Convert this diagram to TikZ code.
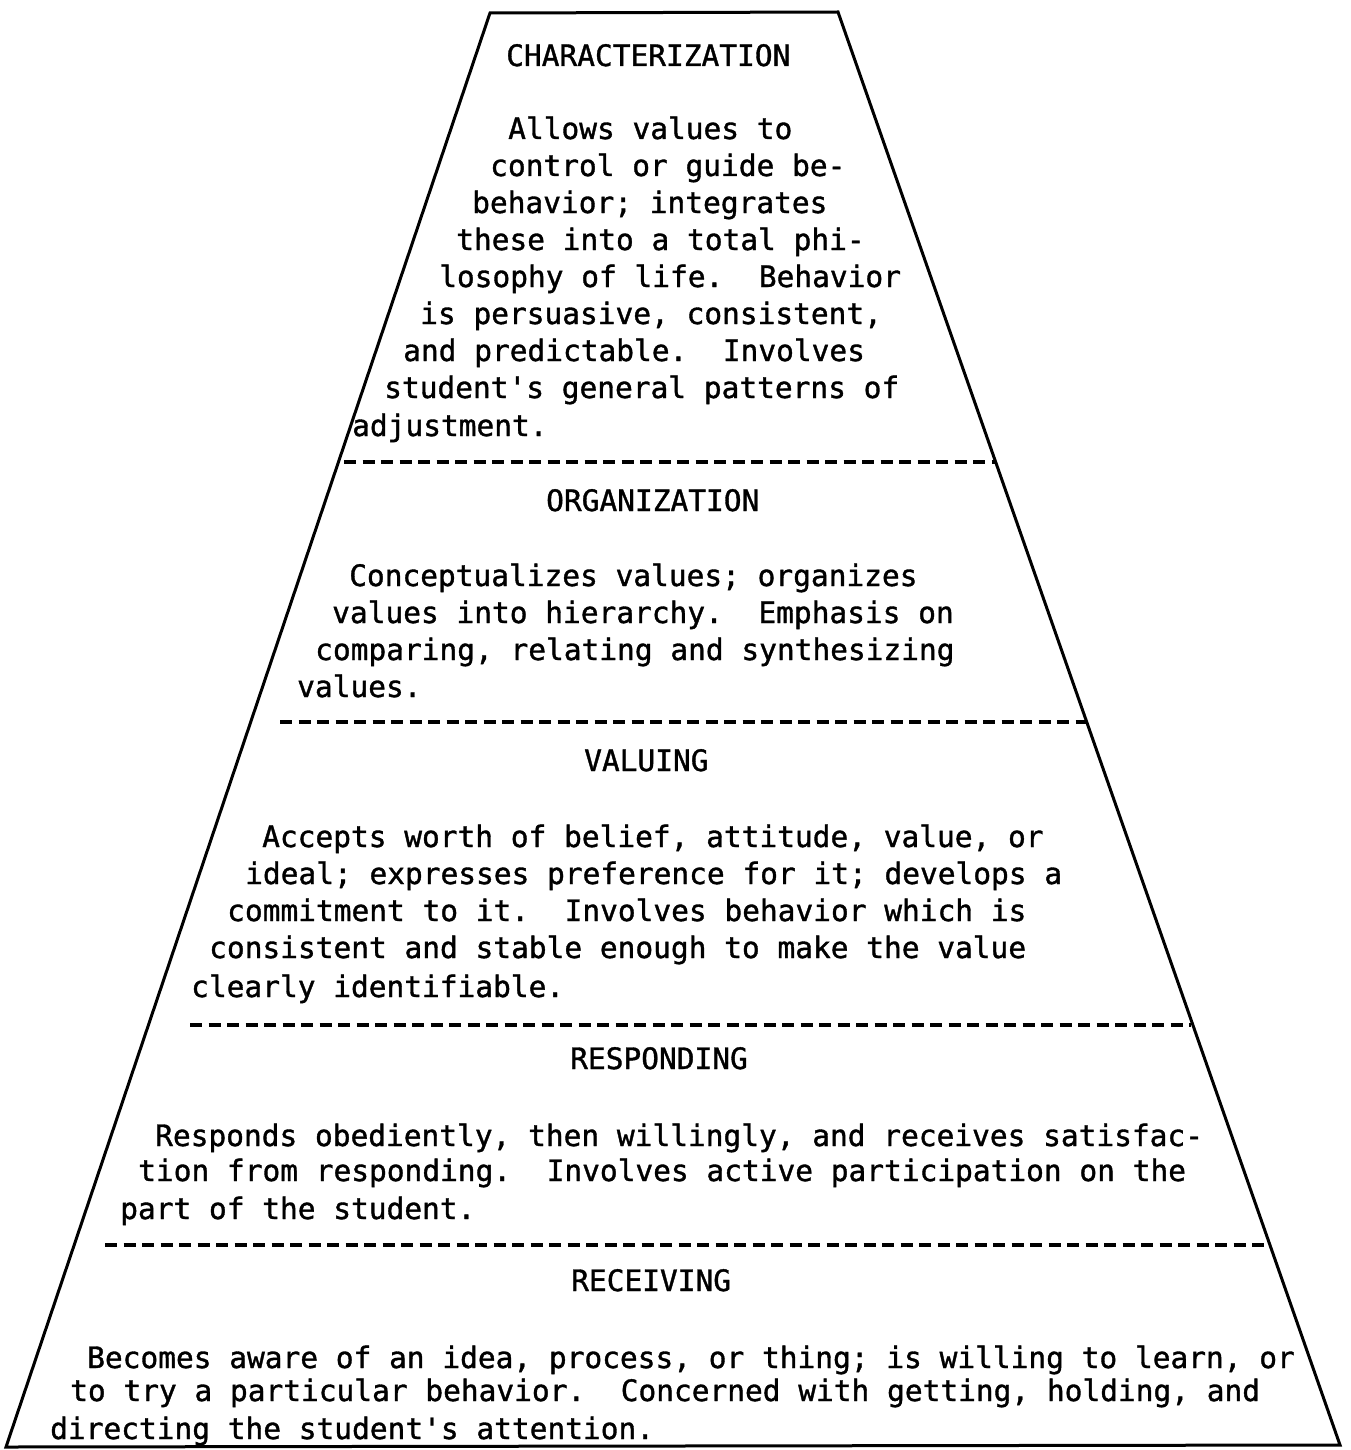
\documentclass[tikz,border=0pt]{standalone}
\usepackage{fontspec}
\setmonofont[WordSpace={1,0,0},FakeBold=1.2]{DejaVu Sans Mono}
\frenchspacing
\begin{document}
\begin{tikzpicture}[x=1pt,y=-1pt,
  ln/.style={anchor=base west,inner sep=0pt,font=\ttfamily\fontsize{29.5}{37}\selectfont},
  edge/.style={line width=3pt,line join=miter},
  divider/.style={line width=3.8pt,dash pattern=on 12pt off 6.5pt}]
\useasboundingbox (0,0) rectangle (1351,1450);
% trapezoid
\coordinate (TL) at (490,13);
\coordinate (TR) at (838,12);
\coordinate (BR) at (1340,1445);
\coordinate (BL) at (6,1447);
\draw[edge] (BL) -- (TL) -- (TR) -- (BR) -- cycle;
% dividers
\draw[divider] (344,462) -- (995,462);
\draw[divider] (280,722) -- (1086,722);
\draw[divider] (190,1025) -- (1191,1025);
\draw[divider] (105,1245) -- (1267,1245);
% characterization
\node[ln] (c0) at (506,66) {CHARACTERIZATION};
\node[ln] (c1) at (508,139) {Allows values to};
\node[ln] (c2) at (490,176) {control or guide be-};
\node[ln] (c3) at (472,213) {behavior; integrates};
\node[ln] (c4) at (456,250) {these into a total phi-};
\node[ln] (c5) at (439,287) {losophy of life.\ \ Behavior};
\node[ln] (c6) at (420,324) {is persuasive, consistent,};
\node[ln] (c7) at (403,361) {and predictable.\ \ Involves};
\node[ln] (c8) at (384,398) {student's general patterns of};
\node[ln] (c9) at (352,436) {adjustment.};
% organization
\node[ln] (o0) at (546,511) {ORGANIZATION};
\node[ln] (o1) at (349,586) {Conceptualizes values; organizes};
\node[ln] (o2) at (332,623) {values into hierarchy.\ \ Emphasis on};
\node[ln] (o3) at (315,660) {comparing, relating and synthesizing};
\node[ln] (o4) at (297,697) {values.};
% valuing
\node[ln] (v0) at (584,771) {VALUING};
\node[ln] (v1) at (262,847) {Accepts worth of belief, attitude, value, or};
\node[ln] (v2) at (245,884) {ideal; expresses preference for it; develops a};
\node[ln] (v3) at (227,921) {commitment to it.\ \ Involves behavior which is};
\node[ln] (v4) at (209,958) {consistent and stable enough to make the value};
\node[ln] (v5) at (191,997) {clearly identifiable.};
% responding
\node[ln] (r0) at (570,1069) {RESPONDING};
\node[ln] (r1) at (155,1146) {Responds obediently, then willingly, and receives satisfac-};
\node[ln] (r2) at (138,1181) {tion from responding.\ \ Involves active participation on the};
\node[ln] (r3) at (120,1219) {part of the student.};
% receiving
\node[ln] (e0) at (571,1291) {RECEIVING};
\node[ln] (e1) at (87,1368) {Becomes aware of an idea, process, or thing; is willing to learn, or};
\node[ln] (e2) at (70,1401) {to try a particular behavior.\ \ Concerned with getting, holding, and};
\node[ln] (e3) at (50,1439) {directing the student's attention.};
\end{tikzpicture}
\end{document}
